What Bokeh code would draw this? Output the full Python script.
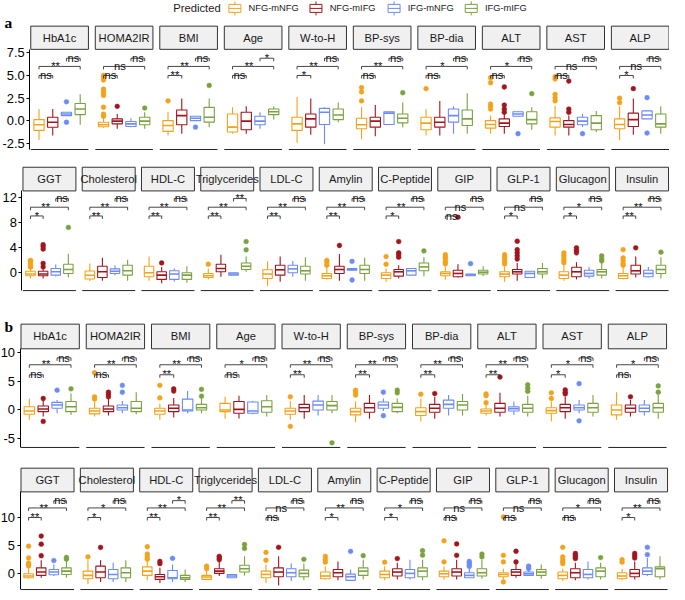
from bokeh.plotting import figure
from bokeh.layouts import column
from bokeh.models import Range1d, FixedTicker, NumeralTickFormatter
from bokeh.core.properties import value
from bokeh.embed import file_html
from bokeh.resources import INLINE

# ---------------- data ----------------
groups = ["NFG-mNFG", "NFG-mIFG", "IFG-mNFG", "IFG-mIFG"]
colors = ["#F2A31B", "#A1161C", "#6B8BF5", "#7BA23F"]

row1_panels = ["HbA1c", "HOMA2IR", "BMI", "Age", "W-to-H", "BP-sys", "BP-dia", "ALT", "AST", "ALP"]
row2_panels = ["GGT", "Cholesterol", "HDL-C", "Triglycerides", "LDL-C", "Amylin", "C-Peptide",
               "GIP", "GLP-1", "Glucagon", "Insulin"]

# significance labels: (NFG-mNFG vs NFG-mIFG, NFG-mNFG vs IFG-mIFG, IFG-mNFG vs IFG-mIFG)
a1_sig = [["ns", "**", "ns"], ["ns", "ns", "ns"], ["**", "**", "ns"], ["ns", "**", "*"], ["*", "**", "ns"],
          ["ns", "**", "ns"], ["ns", "*", "ns"], ["ns", "*", "ns"], ["ns", "ns", "ns"], ["*", "ns", "ns"]]
a2_sig = [["*", "**", "ns"], ["**", "**", "ns"], ["**", "**", "ns"], ["**", "**", "**"], ["**", "**", "ns"],
          ["**", "**", "ns"], ["*", "**", "ns"], ["ns", "ns", "ns"], ["*", "ns", "ns"], ["*", "*", "ns"],
          ["**", "**", "ns"]]
b1_sig = [["ns", "**", "ns"], ["ns", "**", "ns"], ["**", "**", "ns"], ["ns", "*", "ns"], ["**", "**", "ns"],
          ["**", "**", "ns"], ["**", "**", "ns"], ["**", "**", "ns"], ["*", "*", "ns"], ["ns", "*", "ns"]]
b2_sig = [["**", "**", "ns"], ["*", "*", "ns"], ["**", "**", "*"], ["**", "**", "**"], ["ns", "ns", "ns"],
          ["*", "**", "ns"], ["*", "*", "ns"], ["ns", "ns", "ns"], ["ns", "ns", "ns"], ["ns", "*", "ns"],
          ["*", "**", "ns"]]

# bracket heights per row (y values)
a1_levels = [5.0, 6.0, 6.9]
a2_levels = [9.1, 10.5, 11.9]
b1_levels = [6.15, 7.9, 9.1]
b2_levels = [10.0, 11.7, 13.0]

# box stats per panel, per group: (lower whisker, q1, median, q3, upper whisker)
a1_box = [
    [(-2.1, -1.05, -0.43, 0.14, 1.3), (-1.6, -0.7, -0.15, 0.4, 1.3), (0.58, 0.58, 0.76, 0.95, 0.95), (-0.43, 0.69, 1.3, 1.92, 2.93)],
    [(-0.75, -0.65, -0.43, -0.15, 0.35), (-0.87, -0.33, -0.03, 0.22, 0.76), (-0.7, -0.62, -0.33, -0.07, 0.3), (-0.87, -0.43, -0.03, 0.4, 0.95)],
    [(-1.6, -1.16, -0.51, 0.03, 0.95), (-1.41, -0.43, 0.58, 1.2, 2.47), (0.03, 0.03, 0.29, 0.51, 0.51), (-0.69, -0.14, 0.4, 1.49, 2.47)],
    [(-1.41, -1.23, -0.69, 0.76, 1.49), (-1.41, -0.98, -0.03, 0.95, 1.6), (-0.87, -0.43, -0.03, 0.51, 0.95), (0.14, 0.69, 1.01, 1.3, 1.6)],
    [(-2.42, -1.05, -0.33, 0.4, 2.64), (-1.52, -0.69, 0.22, 0.76, 2.47), (-2.57, -0.4, 0.95, 1.38, 1.49), (-0.14, 0.14, 0.65, 1.3, 2.03)],
    [(-2.03, -0.87, -0.43, 0.29, 1.49), (-1.7, -0.69, -0.03, 0.4, 1.74), (-0.4, -0.4, 0.85, 1.01, 1.01), (-0.69, -0.22, 0.29, 0.76, 2.03)],
    [(-1.6, -0.98, -0.25, 0.4, 1.3), (-1.6, -0.69, -0.15, 0.4, 2.2), (-1.41, -0.14, 0.58, 1.3, 1.6), (-1.41, -0.51, 0.22, 1.2, 3.04)],
    [(-1.41, -0.8, -0.4, 0.03, 0.58), (-1.41, -0.62, -0.25, 0.22, 0.76), (0.51, 0.51, 0.76, 1.01, 1.1), (-0.98, -0.33, 0.14, 1.01, 1.49)],
    [(-1.6, -0.69, -0.07, 0.33, 1.67), (-1.6, -0.69, -0.4, 0.03, 0.58), (-0.69, -0.43, -0.03, 0.4, 0.76), (-1.23, -0.98, -0.25, 0.58, 1.1)],
    [(-2.14, -0.87, -0.4, 0.22, 1.6), (-1.52, -0.62, 0.14, 0.85, 2.47), (0.22, 0.22, 0.65, 1.1, 1.1), (-1.41, -0.69, -0.33, 0.76, 1.6)],
]
a1_out = [
    [[], [], [2.1, -0.15], []],
    [[5.0, 4.8, 4.5, 3.5, 3.3, 3.0, 2.8, 1.5, 0.75, 0.5], [1.6], [], [1.41]],
    [[2.2], [], [-0.69], [3.9]],
    [[], [], [], []],
    [[], [], [], []],
    [[3.66, 3.19, 2.2], [], [], [3.1]],
    [[3.55], [], [], []],
    [[4.75, 4.2, 1.85, 1.6, 1.3], [3.73, 1.74, 1.3, 0.95], [-1.41], [3.0]],
    [[4.86, 4.6, 2.93, 2.56, 2.2], [4.38, 1.3, 0.95], [-1.41], []],
    [[2.5, 2.0], [3.55], [2.56, -1.34], []],
]

a2_box = [
    [(-0.9, -0.47, -0.2, 0.26, 0.6), (-0.9, -0.47, -0.2, 0.26, 0.6), (-0.6, -0.37, 0.16, 0.68, 1.35), (-0.7, -0.1, 0.53, 1.37, 3.05)],
    [(-1.3, -1.0, -0.4, 0.3, 1.5), (-1.26, -0.74, 0.16, 1.06, 2.42), (-0.4, -0.1, 0.26, 0.63, 1.2), (-1.26, -0.37, 0.32, 1.2, 2.1)],
    [(-1.26, -0.63, 0.0, 1.06, 2.6), (-1.68, -1.05, -0.37, 0.16, 0.95), (-1.42, -1.05, -0.2, 0.32, 0.68), (-1.58, -1.05, -0.37, 0.0, 1.06)],
    [(-1.05, -0.74, -0.47, -0.1, 0.68), (-0.63, 0.16, 0.68, 1.37, 2.9), (-0.4, -0.37, -0.2, 0.0, 0.05), (0.16, 0.53, 1.06, 1.58, 2.6)],
    [(-2.1, -0.9, -0.2, 0.48, 1.84), (-1.42, -0.37, 0.48, 1.2, 2.63), (-0.63, 0.0, 0.63, 1.2, 1.9), (-1.26, -0.2, 0.32, 1.06, 2.5)],
    [(-1.05, -0.9, -0.47, -0.1, 0.95), (-1.26, -0.1, 0.53, 1.06, 3.0), (0.42, 0.42, 0.55, 0.68, 0.68), (-1.26, -0.1, 0.53, 1.2, 2.42)],
    [(-1.42, -0.9, -0.37, 0.0, 0.68), (-0.9, -0.53, 0.16, 0.53, 1.2), (-0.37, -0.37, 0.32, 0.68, 0.68), (-0.53, 0.32, 0.95, 1.58, 2.5)],
    [(-1.05, -0.47, -0.1, 0.16, 0.95), (-0.74, -0.63, -0.1, 0.42, 1.37), (-0.5, -0.47, -0.33, -0.2, -0.15), (-0.5, -0.2, 0.1, 0.42, 1.06)],
    [(-1.42, -0.63, -0.2, 0.16, 0.95), (-1.26, -0.2, 0.16, 0.53, 1.58), (-0.74, -0.74, -0.1, 0.26, 0.26), (-0.9, -0.2, 0.16, 0.68, 1.58)],
    [(-1.26, -0.9, -0.37, 0.16, 1.2), (-1.05, -0.63, 0.16, 0.9, 1.7), (-0.9, -0.53, -0.1, 0.42, 0.95), (-0.9, -0.37, 0.16, 0.53, 1.58)],
    [(-1.05, -0.9, -0.47, -0.1, 0.95), (-0.74, -0.2, 0.32, 1.2, 2.6), (-0.74, -0.63, -0.1, 0.42, 0.95), (-0.9, -0.1, 0.53, 1.2, 2.5)],
]
a2_out = [
    [[2.0, 1.8, 1.5, 1.2, 0.9], [4.5, 4.2, 3.8, 1.5, 0.95], [], [7.27]],
    [[], [], [], []],
    [[], [1.58], [], []],
    [[1.37], [], [], [5.0, 3.68]],
    [[], [], [], []],
    [[2.0, 1.6, 1.2], [4.37], [1.84, -1.15], []],
    [[2.6, 1.37], [5.0, 3.2, 2.9, 2.5], [], [3.5]],
    [[2.9, 2.5, 2.1, 1.7, 1.4], [8.9], [1.47], []],
    [[2.9, 2.5, 2.1, 1.7, 1.4], [5.05, 3.7, 3.2, 2.7, 2.2], [], []],
    [[3.2, 2.8, 2.4, 2.0, 1.6], [4.0, 3.6, 3.2], [], [2.7, 2.2, 1.9]],
    [[3.7, 2.4, 2.0, 1.5, 1.2], [4.0], [], [3.3]],
]

b1_box = [
    [(-1.72, -0.74, -0.17, 0.57, 2.0), (-1.15, -0.29, 0.17, 0.69, 1.72), (-0.57, 0.29, 0.86, 1.33, 1.72), (-0.86, -0.29, 0.57, 1.49, 2.87)],
    [(-1.15, -0.69, -0.17, 0.29, 1.49), (-0.98, -0.29, 0.17, 0.69, 2.0), (-0.57, 0.0, 0.4, 0.86, 1.55), (-0.74, -0.29, 0.29, 1.49, 3.1)],
    [(-1.72, -0.74, -0.17, 0.29, 1.15), (-1.32, -0.29, 0.29, 0.86, 2.1), (-0.57, -0.17, 0.0, 1.9, 3.3), (-0.57, 0.0, 0.4, 0.97, 1.9)],
    [(-1.55, -0.29, 0.0, 1.15, 2.3), (-1.49, -0.57, 0.11, 1.49, 2.5), (-0.74, -0.57, -0.17, 1.38, 1.55), (-1.15, -0.4, 0.57, 1.61, 2.6)],
    [(-1.72, -0.74, -0.17, 0.29, 1.55), (-1.55, -0.29, 0.4, 0.97, 2.6), (-0.98, 0.0, 0.86, 1.55, 2.6), (-0.57, 0.0, 0.75, 1.49, 2.6)],
    [(-2.13, -0.86, -0.29, 0.29, 1.49), (-1.55, -0.4, 0.4, 1.15, 2.6), (-0.2, 0.29, 0.86, 1.38, 2.0), (-0.57, -0.29, 0.46, 1.15, 2.0)],
    [(-2.0, -0.98, -0.29, 0.4, 2.0), (-1.55, -0.4, 0.29, 0.97, 2.3), (-0.98, 0.29, 0.97, 1.72, 2.6), (-0.98, 0.0, 0.86, 1.49, 2.8)],
    [(-0.98, -0.57, -0.17, 0.17, 0.86), (-1.15, -0.4, 0.29, 1.15, 3.0), (-0.86, -0.17, 0.23, 0.57, 1.49), (-1.15, -0.4, 0.29, 0.97, 2.5)],
    [(-2.0, -0.57, -0.11, 0.4, 1.49), (-1.55, -0.29, 0.4, 0.97, 2.3), (-0.57, 0.0, 0.4, 0.86, 1.72), (-1.15, -0.4, 0.4, 1.15, 2.6)],
    [(-1.72, -0.86, 0.0, 0.86, 3.1), (-1.15, -0.4, 0.29, 0.86, 1.72), (-0.98, -0.29, 0.29, 0.86, 1.72), (-1.55, -0.4, 0.4, 1.15, 2.6)],
]
b1_out = [
    [[], [2.0, -2.0], [3.45], [3.7]],
    [[6.5, 2.3, 1.9], [3.1, 2.7, 2.3], [4.3, 3.1], []],
    [[4.3, 2.1], [3.7, 3.3], [], [3.6, 2.4]],
    [[], [], [], []],
    [[2.3, -2.87], [], [], [-5.75]],
    [[3.45, 3.0, 2.6], [], [3.1, -1.0], [3.45, 3.0]],
    [[2.75], [2.87], [], []],
    [[2.8, 2.5, 1.26], [5.75], [], [4.4, 3.8, 3.25]],
    [[3.0, 2.0], [3.5, 3.1, 2.8], [4.6, -1.9], []],
    [[], [2.3], [], [4.2, 3.1]],
]

b2_box = [
    [(-0.88, -0.7, -0.4, 0.0, 1.23), (-0.7, -0.29, 0.3, 1.05, 2.4), (-0.4, -0.18, 0.3, 0.76, 1.64), (-0.7, -0.12, 0.47, 1.05, 2.4)],
    [(-1.87, -0.88, -0.29, 0.47, 2.4), (-1.46, -0.7, 0.3, 1.35, 2.4), (-1.46, -0.88, -0.12, 0.76, 1.94), (-1.46, -0.7, 0.18, 1.05, 2.4)],
    [(-1.17, -0.29, 0.47, 1.23, 2.4), (-1.64, -1.0, -0.53, -0.12, 1.05), (-1.46, -0.88, -0.7, 0.59, 1.64), (-1.46, -1.0, -0.7, -0.29, 0.76)],
    [(-1.17, -1.0, -0.59, -0.29, 0.47), (-0.4, 0.06, 0.47, 0.9, 2.2), (-0.75, -0.7, -0.4, -0.12, -0.05), (-0.29, 0.3, 0.9, 1.52, 3.1)],
    [(-1.64, -0.7, -0.12, 0.47, 1.64), (-2.1, -0.53, 0.3, 1.05, 3.1), (-1.29, -0.53, 0.18, 0.88, 1.82), (-1.17, -0.53, 0.06, 0.64, 1.82)],
    [(-1.0, -0.88, -0.4, 0.3, 1.35), (-1.17, -0.53, 0.18, 0.76, 2.2), (-1.17, -1.17, -0.53, -0.06, 0.76), (-1.0, -0.29, 0.47, 1.05, 2.5)],
    [(-1.17, -0.7, -0.12, 0.47, 1.35), (-1.0, -0.4, 0.3, 0.88, 1.94), (-1.0, -0.7, 0.06, 0.76, 2.5), (-1.17, -0.53, 0.47, 1.05, 2.5)],
    [(-1.0, -0.53, 0.0, 0.47, 1.35), (-1.0, -0.4, 0.3, 0.88, 2.5), (-0.7, -0.7, -0.29, 0.18, 1.0), (-0.88, -0.4, 0.18, 0.88, 2.5)],
    [(-1.0, -0.53, -0.12, 0.18, 0.9), (-0.7, -0.29, 0.3, 0.76, 1.94), (-0.29, -0.29, 0.0, 0.3, 0.6), (-0.88, -0.29, 0.3, 0.76, 1.64)],
    [(-1.3, -0.88, -0.29, 0.3, 0.9), (-1.17, -0.7, 0.18, 0.88, 1.94), (-1.0, -0.7, -0.12, 0.76, 2.2), (-1.0, -0.53, 0.47, 1.05, 1.94)],
    [(-1.17, -0.88, -0.4, 0.18, 0.9), (-1.0, -0.53, 0.06, 0.76, 2.2), (-0.4, -0.12, 0.47, 1.05, 2.8), (-1.0, -0.53, 0.9, 1.23, 3.1)],
]
b2_out = [
    [[4.9, 2.8, 1.9, 1.6, 1.4], [6.7, 5.26, 3.2], [2.35], [2.9, 2.6]],
    [[3.0], [4.68], [], []],
    [[4.8, 3.5, 3.0, 2.6], [2.2, 1.8], [2.75], []],
    [[1.35, 0.9], [3.1, 2.8, 2.5], [], [5.2, 4.5]],
    [[3.8, 2.4], [4.7], [], [2.57]],
    [[3.1, 2.5, 2.05], [], [3.98], [3.22]],
    [[2.05], [2.7], [], [4.1, 3.3]],
    [[5.85, 2.1], [5.3, 3.27], [2.2, 1.9, 1.6, 1.3], [3.5, 3.0]],
    [[10.1, 3.27, 2.1, -1.46], [4.0, 2.1], [1.35, 0.9], []],
    [[4.7, 3.0, 2.5, 2.1, 1.8], [3.6, 3.3, 3.0, 2.7], [], [2.87]],
    [[2.5, 2.05], [3.6, 3.2, 2.8], [4.7, 3.4], []],
]

a1_ticks = [-2.5, 0.0, 2.5, 5.0, 7.5]
a2_ticks = [0, 4, 8, 12]
b1_ticks = [-5, 0, 5, 10]
b2_ticks = [0, 5, 10]

# ---------------- layout helpers ----------------
W = 669
SX = 669 / 685
SY = 592 / 600
PITCH = 4.7
FONT = "Liberation Sans"
bounds_ref = [0, 160, 314, 462, 600]
tb = [round(b * SY) for b in bounds_ref]


def tx(px):
    return px * SX


def ty(py):
    return py * SY


def row_fig(panels, sig, boxes, outs, levels, ticks, fmt, geo, seg, letter=None, legend=False):
    n = len(panels)
    x_last = (n - 1) * PITCH + 4.6
    X0, X1 = tx(geo["left"]), tx(geo["right"])
    k = (X1 - X0) / (x_last - 0.4)
    xs = 0.4 - X0 / k
    xe = xs + W / k

    (v0, p0), (v1, p1) = geo["ticks"]

    def val(py):
        return v0 + (py - p0) * (v1 - v0) / (p1 - p0)

    def dx(px):
        return xs + tx(px) / k

    top_i, bot_i = seg
    H = tb[bot_i] - tb[top_i]
    ys, ye = val(tb[bot_i] / SY), val(tb[top_i] / SY)
    p = figure(width=W, height=H, x_range=Range1d(xs, xe), y_range=Range1d(ys, ye),
               output_backend="svg", toolbar_location=None, x_axis_type=None,
               min_border_left=0, min_border_right=0, min_border_top=0, min_border_bottom=0)
    p.outline_line_color = None
    p.background_fill_color = "white"
    p.border_fill_color = "white"
    p.grid.visible = False

    axis_v = val(geo["axis"])
    ptop_v = val(geo["strip_bot"])
    stop_v = val(geo["strip_top"])
    unit_px = abs((p1 - p0) / (v1 - v0)) * SY
    tip = 3.0 / unit_px

    ax = p.yaxis[0]
    ax.fixed_location = 0.4 - 1.0 / k
    ax.ticker = FixedTicker(ticks=ticks)
    ax.formatter = NumeralTickFormatter(format=fmt)
    ax.bounds = (axis_v, ptop_v)
    ax.axis_line_color = "black"
    ax.axis_line_width = 1
    ax.major_tick_line_color = "black"
    ax.major_tick_out = 3
    ax.major_tick_in = 0
    ax.minor_tick_out = 0
    ax.minor_tick_in = 0
    ax.major_label_standoff = 2
    ax.major_label_text_font = FONT
    ax.major_label_text_font_size = "12.9px"
    ax.major_label_text_color = "black"

    if letter is not None:
        p.text(x=[dx(4)], y=[val(letter[1])], text=[letter[0]], text_align="left",
               text_baseline="alphabetic", text_font=value("Liberation Serif"), text_font_style="bold",
               text_font_size="15.5px", text_color="black")

    if legend:
        cy = val(8)
        hy = 1.0 / unit_px
        p.text(x=[dx(177)], y=[cy], text=["Predicted"], text_align="left", text_baseline="middle",
               text_font=value(FONT), text_font_size="11.2px", text_color="#1a1a1a")
        lab_ref = [254, 337, 417, 496]
        lab_x = [dx(r) for r in lab_ref]
        kx = [dx(r - 14) for r in lab_ref]
        kw = 6.0 / k
        p.text(x=lab_x, y=[cy] * 4, text=groups, text_align="left", text_baseline="middle",
               text_font=value(FONT), text_font_size="9.3px", text_color="#1a1a1a")
        p.segment(x0=kx, x1=kx, y0=[cy - 7 * hy] * 4, y1=[cy + 7 * hy] * 4, line_color=colors, line_width=1)
        p.quad(left=[x - kw for x in kx], right=[x + kw for x in kx], bottom=[cy - 4 * hy] * 4,
               top=[cy + 4 * hy] * 4, fill_color="white", line_color=colors, line_width=1)
        p.segment(x0=[x - kw for x in kx], x1=[x + kw for x in kx], y0=[cy] * 4, y1=[cy] * 4,
                  line_color=colors, line_width=1)

    offs = [i * PITCH for i in range(n)]
    # strips
    p.quad(left=[o + 0.4 for o in offs], right=[o + 4.6 for o in offs],
           bottom=[ptop_v] * n, top=[stop_v] * n,
           fill_color="#F0F0F0", line_color="#333333", line_width=1)
    p.text(x=[o + 2.5 for o in offs], y=[(ptop_v + stop_v) / 2] * n, text=panels,
           text_align="center", text_baseline="middle", text_font=value(FONT),
           text_font_size="11.2px", text_color="#1a1a1a")
    # bottom axis lines per panel
    p.segment(x0=[o + 0.4 for o in offs], x1=[o + 4.6 for o in offs], y0=[axis_v] * n, y1=[axis_v] * n,
              line_color="#222222", line_width=1)

    # boxes
    bx, lo, q1, md, q3, hi, col = [], [], [], [], [], [], []
    ox, oy, oc = [], [], []
    for i, o in enumerate(offs):
        for g in range(4):
            s = boxes[i][g]
            x = o + g + 1
            bx.append(x)
            lo.append(s[0]); q1.append(s[1]); md.append(s[2]); q3.append(s[3]); hi.append(s[4])
            col.append(colors[g])
            for v in outs[i][g]:
                ox.append(x); oy.append(v); oc.append(colors[g])
    hw = 0.375
    p.segment(x0=bx, x1=bx, y0=q3, y1=hi, line_color=col, line_width=1.1)
    p.segment(x0=bx, x1=bx, y0=lo, y1=q1, line_color=col, line_width=1.1)
    p.quad(left=[x - hw for x in bx], right=[x + hw for x in bx], bottom=q1, top=q3,
           fill_color="white", line_color=col, line_width=1.1)
    p.segment(x0=[x - hw for x in bx], x1=[x + hw for x in bx], y0=md, y1=md, line_color=col, line_width=1.6)
    p.scatter(x=ox, y=oy, size=4.8, fill_color=oc, line_color=oc, line_width=0.5)

    # significance brackets
    pairs = [(1, 2), (1, 4), (3, 4)]
    lab_x = [1.5, 2.2, 3.5]
    mx, my, tx_, ty_, tt = [], [], [], [], []
    for i, o in enumerate(offs):
        for j, (a, b) in enumerate(pairs):
            y = levels[j]
            mx.append([o + a, o + a, o + b, o + b])
            my.append([y - tip, y, y, y - tip])
            tx_.append(o + lab_x[j]); ty_.append(y + 0.3 / unit_px); tt.append(sig[i][j])
    p.multi_line(xs=mx, ys=my, line_color="#333333", line_width=0.9)
    p.text(x=tx_, y=ty_, text=tt, text_align="center", text_baseline="alphabetic",
           text_font=value(FONT), text_font_size="11.2px", text_color="#111111")
    return p


geo_a1 = dict(left=31, right=684.5, ticks=[(0, 122), (7.5, 53)], strip_top=26, strip_bot=49.5, axis=151)
geo_a2 = dict(left=23, right=684, ticks=[(0, 276), (12, 200)], strip_top=169, strip_bot=193, axis=294)
geo_b1 = dict(left=21, right=682, ticks=[(0, 415), (10, 357)], strip_top=328, strip_bot=353, axis=453)
geo_b2 = dict(left=21, right=683, ticks=[(0, 581), (10, 524)], strip_top=474, strip_bot=498, axis=597)

f_a1 = row_fig(row1_panels, a1_sig, a1_box, a1_out, a1_levels, a1_ticks, "0.0", geo_a1, (0, 1),
               letter=("a", 22), legend=True)
f_a2 = row_fig(row2_panels, a2_sig, a2_box, a2_out, a2_levels, a2_ticks, "0", geo_a2, (1, 2))
f_b1 = row_fig(row1_panels, b1_sig, b1_box, b1_out, b1_levels, b1_ticks, "0", geo_b1, (2, 3),
               letter=("b", 330))
f_b2 = row_fig(row2_panels, b2_sig, b2_box, b2_out, b2_levels, b2_ticks, "0", geo_b2, (3, 4))

layout = column(f_a1, f_a2, f_b1, f_b2, spacing=0)
open("out.html", "w").write(file_html(layout, INLINE))
